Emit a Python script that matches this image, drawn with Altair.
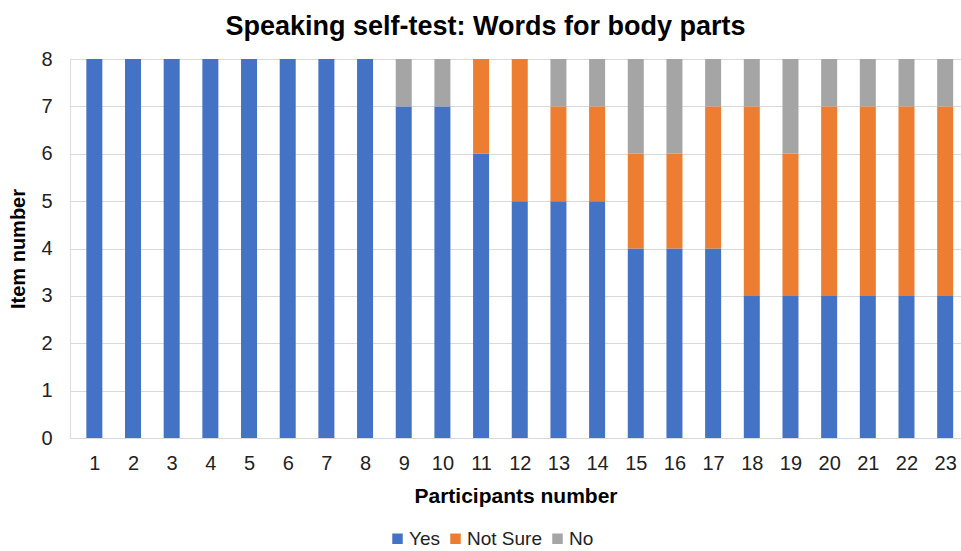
import altair as alt
import pandas as pd

participants = list(range(1, 24))
yes_vals =      [8, 8, 8, 8, 8, 8, 8, 8, 7, 7, 6, 5, 5, 5, 4, 4, 4, 3, 3, 3, 3, 3, 3]
not_sure_vals = [0, 0, 0, 0, 0, 0, 0, 0, 0, 0, 2, 3, 2, 2, 2, 2, 3, 4, 3, 4, 4, 4, 4]
no_vals =       [0, 0, 0, 0, 0, 0, 0, 0, 1, 1, 0, 0, 1, 1, 2, 2, 1, 1, 2, 1, 1, 1, 1]

categories = ["Yes", "Not Sure", "No"]
colors = ["#4472C4", "#ED7D31", "#A5A5A5"]

rows = []
for i, p in enumerate(participants):
    for k, (cat, vals) in enumerate(zip(categories, [yes_vals, not_sure_vals, no_vals])):
        rows.append({"participant": p, "category": cat, "value": vals[i], "order": k})
df = pd.DataFrame(rows)

FONT = "Liberation Sans, Arial, sans-serif"

chart = alt.Chart(df).mark_bar(size=16).encode(
    x=alt.X("participant:Q",
            scale=alt.Scale(domain=[0.5, 23.28], nice=False, zero=False),
            axis=alt.Axis(values=participants, format="d", title="Participants number",
                          grid=False, ticks=False, domain=True, domainColor="#D9D9D9",
                          labelFontSize=20, labelColor="#222222", labelPadding=15,
                          labelFont=FONT, titleFont=FONT, titleFontSize=21,
                          titleFontWeight="bold", titleColor="#000000", titlePadding=12,
                          labelFlush=False)),
    y=alt.Y("value:Q", stack="zero",
            scale=alt.Scale(domain=[0, 8], nice=False),
            axis=alt.Axis(values=list(range(0, 9)), title="Item number", grid=True,
                          gridColor="#D9D9D9", ticks=False, domain=False,
                          labelFontSize=20, labelColor="#222222", labelPadding=18,
                          labelFont=FONT, titleFont=FONT, titleFontSize=20,
                          titleFontWeight="bold", titleColor="#000000", titlePadding=12)),
    color=alt.Color("category:N",
                    scale=alt.Scale(domain=categories, range=colors),
                    legend=alt.Legend(title=None, orient="none", direction="horizontal",
                                      legendX=318, legendY=470, symbolType="square",
                                      symbolSize=110, symbolStrokeWidth=0,
                                      labelFontSize=19, labelFont=FONT,
                                      labelColor="#222222", labelOffset=2,
                                      columnPadding=6)),
    order=alt.Order("order:Q", sort="ascending"),
).properties(
    width=891,
    height=379,
    title=alt.TitleParams("Speaking self-test: Words for body parts", font=FONT,
                          fontSize=27, fontWeight="bold", color="#000000",
                          anchor="middle", dx=-30, offset=8),
    autosize=alt.AutoSizeParams(type="none"),
    padding={"left": 70, "top": 59, "right": 0, "bottom": 113},
).configure_view(stroke=None).configure(background="white")

chart.save("out.html", embed_options={"renderer": "svg", "actions": False})
